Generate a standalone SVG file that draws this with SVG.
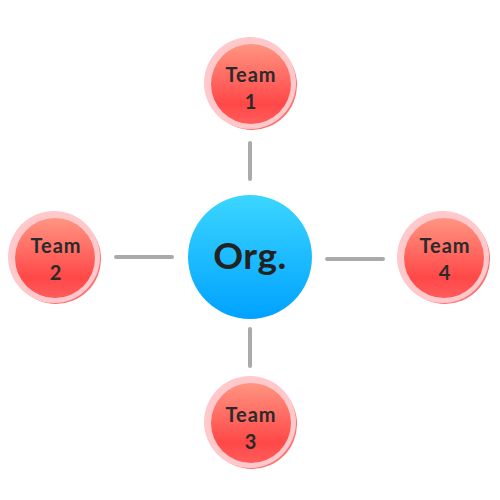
<svg xmlns="http://www.w3.org/2000/svg" width="500" height="500" viewBox="0 0 500 500">
<defs>
<linearGradient id="redG" x1="0" y1="0" x2="0" y2="1">
<stop offset="0" stop-color="#ff9582"/>
<stop offset="0.75" stop-color="#ff4848"/>
<stop offset="1" stop-color="#ff5c5c"/>
</linearGradient>
<linearGradient id="blueG" x1="0" y1="0" x2="0" y2="1">
<stop offset="0" stop-color="#3bd6ff"/>
<stop offset="1" stop-color="#00a2ff"/>
</linearGradient>
</defs>
<style>
.conn{stroke:#aaaaaa;stroke-width:4;stroke-linecap:round;fill:none}
.shadow{fill:#ff7070}
.ring{fill:#ffc9cc}
.core{fill:url(#redG)}
.lbl{font-family:Lato,"Open Sans","DejaVu Sans",sans-serif;font-weight:bold;font-size:20px;letter-spacing:1px;fill:#2a2a2a;text-anchor:middle}
.org{font-family:Lato,"Open Sans","DejaVu Sans",sans-serif;font-weight:bold;font-size:37px;letter-spacing:0.5px;fill:#222222;text-anchor:middle}
</style>
<rect width="500" height="500" fill="#ffffff"/>
<g id="connectors">
<line class="conn" x1="250" y1="143" x2="250" y2="179"/>
<line class="conn" x1="250" y1="329" x2="250" y2="366"/>
<line class="conn" x1="116" y1="257" x2="172" y2="257"/>
<line class="conn" x1="327" y1="259" x2="383" y2="259"/>
</g>
<g id="org">
<circle cx="250" cy="257" r="62" fill="url(#blueG)"/>
<text class="org" x="250" y="269">Org.</text>
</g>
<g id="team1">
<circle class="shadow" cx="252" cy="85" r="45"/>
<circle class="ring" cx="250" cy="83" r="46"/>
<circle class="core" cx="251" cy="84" r="40"/>
<text class="lbl" x="251" y="82">Team</text>
<text class="lbl" x="251" y="109">1</text>
</g>
<g id="team2">
<circle class="shadow" cx="56" cy="259" r="45"/>
<circle class="ring" cx="54" cy="257" r="46"/>
<circle class="core" cx="55" cy="258" r="40"/>
<text class="lbl" x="56" y="253">Team</text>
<text class="lbl" x="56" y="280">2</text>
</g>
<g id="team3">
<circle class="shadow" cx="252" cy="424" r="45"/>
<circle class="ring" cx="250" cy="422" r="46"/>
<circle class="core" cx="251" cy="423" r="40"/>
<text class="lbl" x="251" y="422">Team</text>
<text class="lbl" x="251" y="449">3</text>
</g>
<g id="team4">
<circle class="shadow" cx="445" cy="259" r="45"/>
<circle class="ring" cx="443" cy="257" r="46"/>
<circle class="core" cx="444" cy="258" r="40"/>
<text class="lbl" x="445" y="253">Team</text>
<text class="lbl" x="445" y="280">4</text>
</g>
</svg>
